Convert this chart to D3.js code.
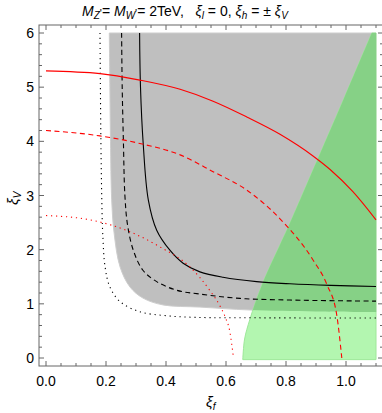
<!DOCTYPE html>
<html>
<head>
<meta charset="utf-8">
<script src="https://cdn.jsdelivr.net/npm/d3@7"></script>
<style>
  body { margin: 0; background: #fff; }
  svg text { font-family: "Liberation Sans", Arial, sans-serif; }
</style>
</head>
<body>
<div id="chart"></div>
<script>
// points, as [xi_f, xi_V]
const greyRegion = [[0.211, 6], [0.213, 5], [0.215, 4], [0.219, 2.92], [0.227, 2.31], [0.247, 1.68],
  [0.28, 1.31], [0.323, 1.107], [0.39, 0.98], [0.513, 0.94], [0.68, 0.886], [0.9, 0.86], [1.1, 0.85]];
const greenRegion = [[0.656, -0.03], [0.662, 0.35], [0.68, 0.72], [0.72, 1.35], [0.81, 2.45],
  [0.89, 3.47], [0.99, 4.75], [1.086, 6]];
const blackSolid = [[0.312, 6], [0.315, 5], [0.324, 3.96], [0.341, 2.92], [0.369, 2.36], [0.413, 1.99],
  [0.457, 1.75], [0.513, 1.59], [0.59, 1.49], [0.702, 1.41], [0.813, 1.37], [0.95, 1.34], [1.1, 1.32]];
const blackDashed = [[0.252, 6], [0.254, 5], [0.258, 4], [0.263, 3.0], [0.272, 2.45], [0.291, 1.99],
  [0.323, 1.62], [0.369, 1.41], [0.436, 1.25], [0.513, 1.18], [0.647, 1.10], [0.813, 1.07], [1.1, 1.05]];
const blackDotted = [[0.18, 6], [0.183, 4], [0.186, 2.92], [0.189, 2.31], [0.197, 1.68], [0.213, 1.31],
  [0.247, 1.04], [0.313, 0.854], [0.402, 0.78], [0.502, 0.75], [0.7, 0.742], [1.1, 0.738]];
const redSolid = [[0, 5.3], [0.18, 5.25], [0.313, 5.13], [0.447, 4.96], [0.557, 4.74], [0.669, 4.45],
  [0.78, 4.13], [0.89, 3.73], [0.947, 3.48], [1.023, 3.07], [1.1, 2.55]];
const redDashed = [[0, 4.2], [0.18, 4.1], [0.313, 3.96], [0.447, 3.75], [0.557, 3.44], [0.669, 3.1],
  [0.78, 2.57], [0.89, 1.81], [0.936, 1.36], [0.969, 0.8], [0.986, 0]];
const redDotted = [[0, 2.63], [0.147, 2.55], [0.28, 2.33], [0.38, 2.05], [0.48, 1.68], [0.547, 1.24],
  [0.58, 0.96], [0.597, 0.76], [0.613, 0.48], [0.625, 0]];
const xTicks = [0, 0.2, 0.4, 0.6, 0.8, 1.0];
const yTicks = [0, 1, 2, 3, 4, 5, 6];

const W = 382, H = 413;
const frame = { left: 39, right: 383, top: 25, bottom: 366 };

const svg = d3.select("#chart").append("svg")
    .attr("width", W)
    .attr("height", H);

const x = d3.scaleLinear().domain([0, 1.1]).range([46, 376]);
const y = d3.scaleLinear().domain([0, 6]).range([358, 33]);

const line = d3.line()
    .x(d => x(d[0]))
    .y(d => y(d[1]))
    .curve(d3.curveCatmullRom);

const lineMono = d3.line()
    .x(d => x(d[0]))
    .y(d => y(d[1]))
    .curve(d3.curveMonotoneX);

// grey region, closed along the top right corner
const greyPath = line(greyRegion) + `L${x(1.1)},${y(6)}Z`;
const greenPath = line(greenRegion) + `L${x(1.1)},${y(6)}L${x(1.1)},${y(-0.03)}Z`;

svg.append("clipPath").attr("id", "greyClip")
  .append("path").attr("d", greyPath);

svg.append("path")
    .attr("d", greyPath)
    .attr("fill", "#bfbfbf")
    .attr("stroke", "#cdcdcd")
    .attr("stroke-width", 1);

svg.append("path")
    .attr("d", greenPath)
    .attr("fill", "#b3f6b0")
    .attr("stroke", "#9ee89a")
    .attr("stroke-width", 1);

// green over grey is darker
svg.append("path")
    .attr("d", greenPath)
    .attr("clip-path", "url(#greyClip)")
    .attr("fill", "#86d186");

// curves
const curves = [
  { data: blackSolid, color: "#000", dash: null, gen: line },
  { data: blackDashed, color: "#000", dash: "5,3.5", gen: line },
  { data: blackDotted, color: "#000", dash: "1.2,3.8", gen: line },
  { data: redSolid, color: "#ff0000", dash: null, gen: lineMono },
  { data: redDashed, color: "#ff0000", dash: "5,3.5", gen: lineMono },
  { data: redDotted, color: "#ff0000", dash: "1.2,3.8", gen: lineMono }
];

curves.forEach(c => {
  svg.append("path")
      .datum(c.data)
      .attr("fill", "none")
      .attr("stroke", c.color)
      .attr("stroke-width", 1.1)
      .attr("stroke-dasharray", c.dash)
      .attr("d", c.gen);
});

// frame
const axisColor = "#666";
svg.append("rect")
    .attr("x", frame.left)
    .attr("y", frame.top)
    .attr("width", frame.right - frame.left)
    .attr("height", frame.bottom - frame.top)
    .attr("fill", "none")
    .attr("stroke", axisColor)
    .attr("stroke-width", 1);

// ticks pointing inward
const xMinor = d3.range(0, 1.1001, 0.05);
const yMinor = d3.range(0, 6.001, 0.2);

xMinor.forEach(v => {
  const major = xTicks.some(t => Math.abs(t - v) < 1e-6);
  const len = major ? 5 : 3;
  svg.append("line")
      .attr("x1", x(v)).attr("x2", x(v))
      .attr("y1", frame.bottom).attr("y2", frame.bottom - len)
      .attr("stroke", axisColor);
  svg.append("line")
      .attr("x1", x(v)).attr("x2", x(v))
      .attr("y1", frame.top).attr("y2", frame.top + len)
      .attr("stroke", axisColor);
});

yMinor.forEach(v => {
  const major = yTicks.some(t => Math.abs(t - v) < 1e-6);
  const len = major ? 5 : 3;
  svg.append("line")
      .attr("x1", frame.left).attr("x2", frame.left + len)
      .attr("y1", y(v)).attr("y2", y(v))
      .attr("stroke", axisColor);
  svg.append("line")
      .attr("x1", frame.right).attr("x2", frame.right - len)
      .attr("y1", y(v)).attr("y2", y(v))
      .attr("stroke", axisColor);
});

svg.selectAll(".xlab")
  .data(xTicks)
  .join("text")
    .attr("x", d => x(d))
    .attr("y", 386)
    .attr("text-anchor", "middle")
    .style("font-size", "14px")
    .text(d => d.toFixed(1));

svg.selectAll(".ylab")
  .data(yTicks)
  .join("text")
    .attr("x", 34)
    .attr("y", d => y(d) + 5)
    .attr("text-anchor", "end")
    .style("font-size", "14px")
    .text(d => d);

// axis labels
const xl = svg.append("text")
    .attr("x", 206)
    .attr("y", 407)
    .style("font-size", "15px")
    .style("font-style", "italic");
xl.append("tspan").text("ξ");
xl.append("tspan").attr("dy", 3).style("font-size", "10px").text("f");

const yl = svg.append("text")
    .attr("transform", "translate(18,205) rotate(-90)")
    .style("font-size", "15px")
    .style("font-style", "italic");
yl.append("tspan").text("ξ");
yl.append("tspan").attr("dy", 3).style("font-size", "10px").text("V");

// title
const title = svg.append("text")
    .attr("x", 82)
    .attr("y", 16)
    .style("font-size", "14px");
const part = (t, opts = {}) => {
  const s = title.append("tspan").text(t);
  if (opts.it) s.style("font-style", "italic");
  if (opts.size) s.style("font-size", opts.size);
  if (opts.dy) s.attr("dy", opts.dy);
  return s;
};
part("M", { it: true });
part("Z", { it: true, size: "10px", dy: 3 });
part("'", { size: "11px", dy: -2 });
part("= ", { dy: -1 });
part("M", { it: true });
part("W", { it: true, size: "10px", dy: 3 });
part("'", { size: "11px", dy: -2 });
part("= 2TeV,", { dy: -1 });
part("\u00a0\u00a0\u00a0ξ", { it: true });
part("l", { it: true, size: "10px", dy: 3 });
part(" = 0, ", { dy: -3 });
part("ξ", { it: true });
part("h", { it: true, size: "10px", dy: 3 });
part(" = ± ", { dy: -3 });
part("ξ", { it: true });
part("V", { it: true, size: "10px", dy: 3 });
</script>
</body>
</html>
